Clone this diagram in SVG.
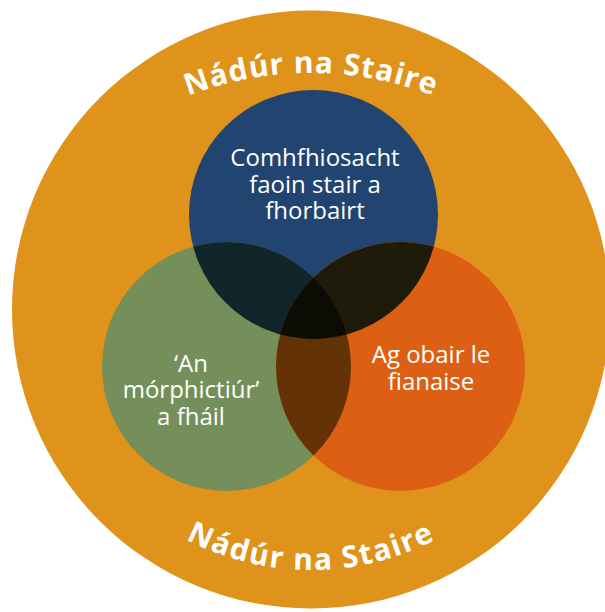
<svg xmlns="http://www.w3.org/2000/svg" width="605" height="612" viewBox="0 0 605 612">
  <style>
    .ring { font-family: "Open Sans", "Noto Sans", "Liberation Sans", sans-serif; font-weight: 700; font-size: 30px; fill: #ffffff; letter-spacing: 1px; }
    .lbl { font-family: "Open Sans", "Noto Sans", "Liberation Sans", sans-serif; font-weight: 400; font-size: 24px; fill: #ffffff; text-anchor: middle; }
  </style>
  <defs>
    <path id="arcTop" d="M -29,413 A 340 340 0 0 1 651,413"/>
    <path id="arcBot" d="M 41,300 A 270 270 0 0 0 581,300"/>
    <clipPath id="cBlue"><circle cx="313.5" cy="214.5" r="124.5"/></clipPath>
    <clipPath id="cGreen"><circle cx="226.5" cy="366.5" r="124.5"/></clipPath>
  </defs>
  <rect width="605" height="612" fill="#ffffff"/>
  <g id="outer">
    <circle cx="311" cy="309.5" r="299" fill="#DF931B"/>
    <text class="ring"><textPath href="#arcTop" startOffset="50%" text-anchor="middle">Nádúr na Staire</textPath></text>
    <text class="ring" style="letter-spacing:1.6px"><textPath href="#arcBot" startOffset="50%" text-anchor="middle">Nádúr na Staire</textPath></text>
  </g>
  <g id="blue">
    <circle cx="313.5" cy="214.5" r="124.5" fill="#224471"/>
  </g>
  <g id="green">
    <circle cx="226.5" cy="366.5" r="124.5" fill="#748F5A"/>
  </g>
  <g id="orange">
    <circle cx="400.5" cy="366.5" r="124.5" fill="#DD5F14"/>
  </g>
  <g id="overlaps">
    <g clip-path="url(#cBlue)"><circle cx="226.5" cy="366.5" r="124.5" fill="#10262A"/></g>
    <g clip-path="url(#cBlue)"><circle cx="400.5" cy="366.5" r="124.5" fill="#1E1B0B"/></g>
    <g clip-path="url(#cGreen)"><circle cx="400.5" cy="366.5" r="124.5" fill="#633305"/></g>
    <g clip-path="url(#cBlue)"><g clip-path="url(#cGreen)"><circle cx="400.5" cy="366.5" r="124.5" fill="#0C0C04"/></g></g>
  </g>
  <g id="labels">
    <text class="lbl" x="315" y="166">Comhfhiosacht</text>
    <text class="lbl" x="315" y="193">faoin stair a</text>
    <text class="lbl" x="315" y="219">fhorbairt</text>
    <text class="lbl" x="191" y="372">‘An</text>
    <text class="lbl" x="191" y="398">mórphictiúr’</text>
    <text class="lbl" x="191" y="425">a fháil</text>
    <text class="lbl" x="431" y="363">Ag obair le</text>
    <text class="lbl" x="431" y="390">fianaise</text>
  </g>
  <g id="connectors"/>
</svg>
